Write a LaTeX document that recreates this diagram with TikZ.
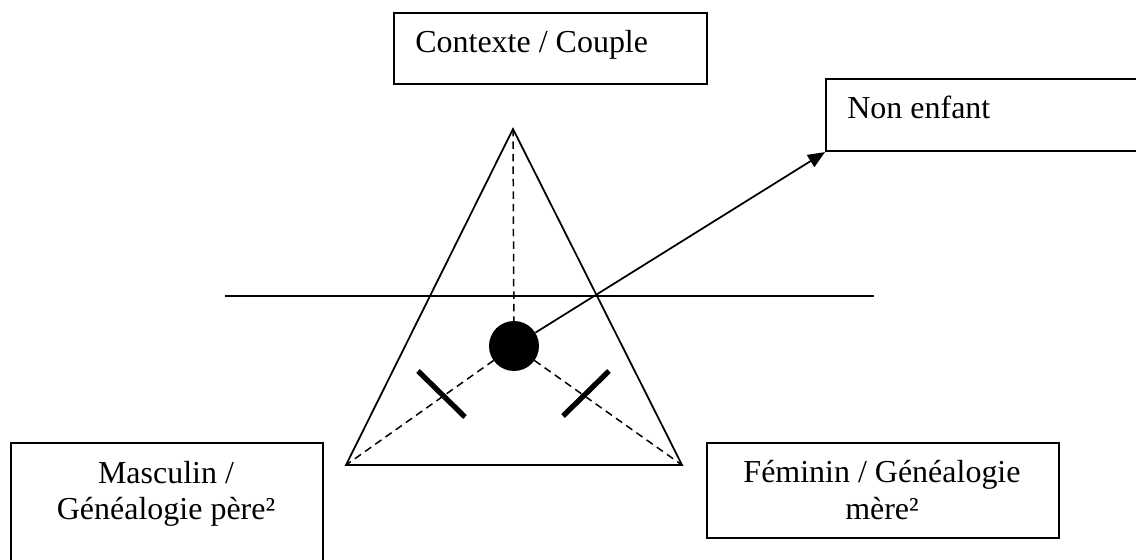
\documentclass[tikz,border=0pt]{standalone}
\usepackage{fontspec}
\setmainfont{Liberation Serif}
\usetikzlibrary{arrows.meta}
\tikzset{
  box/.style={draw=black, line width=1.2pt, rectangle, inner sep=0pt, anchor=north west},
  txt/.style={inner sep=0pt, font=\fontsize{18.2}{20.7}\selectfont},
  tri/.style={draw=black, line width=1pt, line join=miter},
  dashline/.style={draw=black, line width=0.85pt, dash pattern=on 0.15cm off 0.1cm},
  tick/.style={draw=black, line width=3pt},
  hline/.style={draw=black, line width=1.1pt},
  arrowline/.style={draw=black, line width=1pt, -{Triangle[length=0.34cm,width=0.28cm]}}
}
\begin{document}
\begin{tikzpicture}[x=0.02cm, y=-0.02cm]
\path[use as bounding box, clip] (0,0) rectangle (1136,560);
\fill[white] (0,0) rectangle (1136,560);

% boxes
\node[box, minimum width=6.26cm, minimum height=1.42cm] (ctx) at (393,12) {};
\node[txt, anchor=base west] (ctxt) at (415,53) {Contexte / Couple};

\node[box, minimum width=7.0cm, minimum height=1.44cm] (non) at (825,78) {};
\node[txt, anchor=base west] (nont) at (847,119) {Non enfant};

\node[box, minimum width=6.24cm, minimum height=3.0cm] (masc) at (10,442) {};
\node[txt, anchor=base] (masct1) at (166,483) {Masculin /};
\node[txt, anchor=base] (masct2) at (166,519) {Généalogie père²};

\node[box, minimum width=7.04cm, minimum height=1.9cm] (fem) at (706,442) {};
\node[txt, anchor=base] (femt1) at (882,482) {Féminin / Généalogie};
\node[txt, anchor=base] (femt2) at (882,519) {mère²};

% triangle
\coordinate (apex) at (513,129);
\coordinate (lv) at (346,465);
\coordinate (rv) at (682,465);
\draw[tri] (apex) -- (lv) -- (rv) -- cycle;

% horizontal line
\coordinate (hl) at (225,296);
\coordinate (hr) at (874,296);
\draw[hline] (hl) -- (hr);

% centre point
\coordinate (c) at (514,346);
\draw[dashline] (apex) -- (c);
\draw[dashline] (c) -- (lv);
\draw[dashline] (c) -- (rv);
\node[circle, fill=black, inner sep=0pt, minimum size=1.0cm] (dot) at (c) {};

% ticks
\draw[tick] (418,371) -- (465,417);
\draw[tick] (609,371) -- (563,416);

% arrow
\draw[arrowline] (dot) -- (non.south west);
\end{tikzpicture}
\end{document}
